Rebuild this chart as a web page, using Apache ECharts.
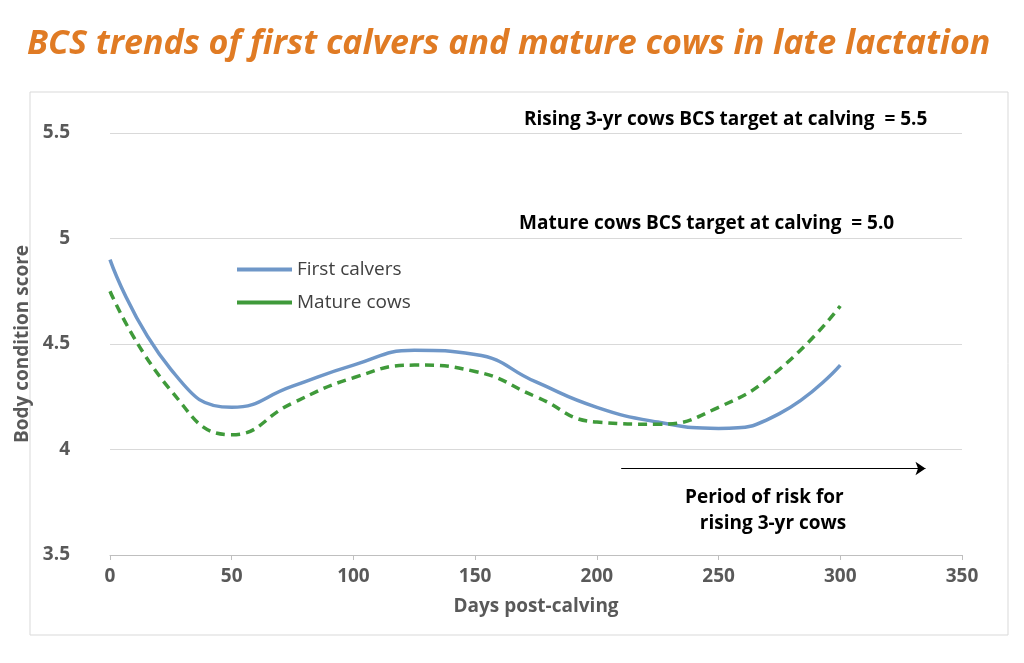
<!DOCTYPE html>
<html>
<head>
<meta charset="utf-8">
<script src="https://cdn.jsdelivr.net/npm/echarts@6/dist/echarts.min.js"></script>
<style>
  html, body { margin: 0; padding: 0; background: #fff; }
  #main { width: 1024px; height: 663px; }
</style>
</head>
<body>
<div id="main"></div>
<script>
// days post-calving
var days = [0, 25, 50, 75, 100, 125, 150, 175, 200, 225, 250, 275, 300];
var firstCalvers = [4.9, 4.38, 4.2, 4.3, 4.4, 4.47, 4.45, 4.32, 4.2, 4.13, 4.1, 4.17, 4.4];
var matureCows = [4.75, 4.28, 4.07, 4.22, 4.34, 4.4, 4.37, 4.25, 4.13, 4.12, 4.2, 4.38, 4.68];
var riskArrow = [[210, 3.91], [335, 3.91]];

function pairs(xs, ys) {
  return xs.map(function (x, i) { return [x, ys[i]]; });
}

var myChart = echarts.init(document.getElementById('main'));

var labelFont = { color: '#595959', fontSize: 19, fontWeight: 'bold', fontFamily: 'Open Sans' };

var option = {
  animation: false,
  title: {
    text: 'BCS trends of first calvers and mature cows in late lactation',
    left: 22,
    top: 22,
    textStyle: { color: '#E07B24', fontSize: 34, fontStyle: 'italic', fontWeight: 'bold', fontFamily: 'Open Sans' }
  },
  legend: {
    orient: 'vertical',
    left: 232,
    top: 255,
    itemWidth: 55,
    itemHeight: 4,
    itemGap: 14,
    icon: 'rect',
    textStyle: { color: '#404040', fontSize: 19, fontFamily: 'Open Sans' },
    data: ['First calvers', 'Mature cows']
  },
  grid: { left: 110, right: 62, top: 133, bottom: 108 },
  xAxis: {
    type: 'value', min: 0, max: 350, interval: 50,
    name: 'Days post-calving', nameLocation: 'middle', nameGap: 42,
    nameTextStyle: labelFont,
    axisLine: { lineStyle: { color: '#bfbfbf' } },
    axisTick: { show: true, lineStyle: { color: '#bfbfbf' } },
    splitLine: { show: false },
    axisLabel: Object.assign({ margin: 12 }, labelFont)
  },
  yAxis: {
    type: 'value', min: 3.5, max: 5.5, interval: 0.5,
    name: 'Body condition score', nameLocation: 'middle', nameGap: 64,
    nameTextStyle: labelFont,
    axisLine: { show: false },
    axisTick: { show: false },
    splitLine: { lineStyle: { color: '#d9d9d9' } },
    axisLabel: Object.assign({ margin: 40 }, labelFont)
  },
  graphic: [
    { type: 'rect', shape: { x: 30, y: 92, width: 978, height: 543 }, style: { fill: 'none', stroke: '#d9d9d9', lineWidth: 1 } },
    { type: 'text', left: 524, top: 110, style: { text: 'Rising 3-yr cows BCS target at calving  = 5.5', fill: '#000', font: 'bold 19px "Open Sans"' } },
    { type: 'text', left: 519, top: 214, style: { text: 'Mature cows BCS target at calving  = 5.0', fill: '#000', font: 'bold 19px "Open Sans"' } },
    { type: 'text', left: 685, top: 485, style: { text: 'Period of risk for\n   rising 3-yr cows', fill: '#000', font: 'bold 19px "Open Sans"', lineHeight: 26 } }
  ],
  series: [
    {
      name: 'First calvers', type: 'line', smooth: true, symbol: 'none',
      lineStyle: { color: '#6F97C8', width: 3.5 },
      itemStyle: { color: '#6F97C8' },
      data: pairs(days, firstCalvers),
      markLine: {
        silent: true, symbol: ['none', 'arrow'], symbolSize: 10,
        label: { show: false },
        lineStyle: { color: '#000', width: 1, type: 'solid' },
        data: [[{ coord: riskArrow[0] }, { coord: riskArrow[1] }]]
      }
    },
    {
      name: 'Mature cows', type: 'line', smooth: true, symbol: 'none',
      lineStyle: { color: '#3F9A3A', width: 3.5, type: [9, 6] },
      itemStyle: { color: '#3F9A3A' },
      data: pairs(days, matureCows)
    }
  ]
};
myChart.setOption(option);
</script>
</body>
</html>
